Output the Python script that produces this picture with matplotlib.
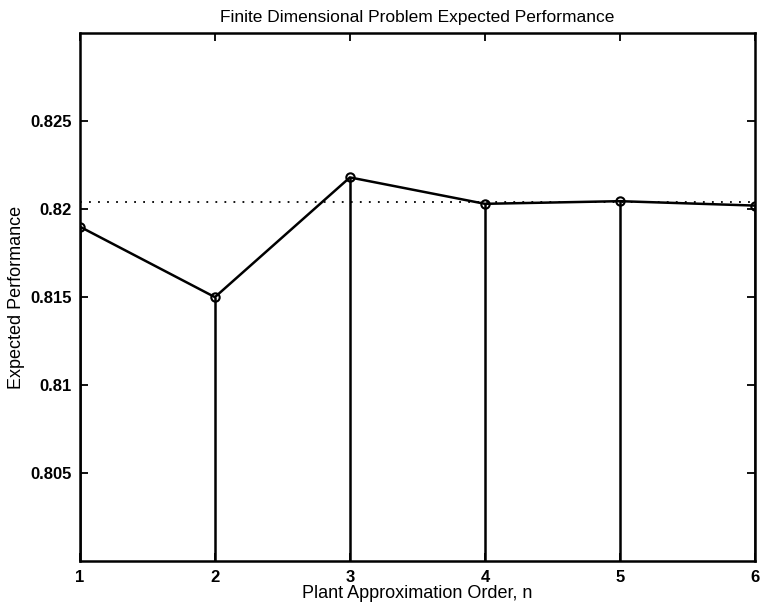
import numpy as np
import matplotlib
matplotlib.use("Agg")
import matplotlib.pyplot as plt

plt.rcParams['font.family'] = ['Liberation Sans', 'DejaVu Sans']

# ============== data
order = np.array([1, 2, 3, 4, 5, 6])
perf = np.array([0.8190, 0.8150, 0.8218, 0.8203, 0.82045, 0.8202])
infDimPerf = 0.8204   # dotted reference level
yTicks = [0.805, 0.81, 0.815, 0.82, 0.825]
yTickLabels = ['0.805', '0.81', '0.815', '0.82', '0.825']

fig = plt.figure(figsize=(7.61, 6.12), dpi=100)
ax = fig.add_axes([0.105, 0.083, 0.887, 0.863])

# stems down to the bottom
ax.vlines(order, 0.80, perf, colors='black', linewidth=1.8)
ax.plot(order, perf, '-', color='black', linewidth=1.8)
ax.plot(order, perf, 'o', markerfacecolor='none', markeredgecolor='black',
        markersize=6, markeredgewidth=1.5)
ax.axhline(infDimPerf, color='black', linestyle=(0, (1, 4)), linewidth=1.3)

ax.set_xlim(1, 6)
ax.set_ylim(0.80, 0.83)
ax.set_xticks(order)
ax.set_xticklabels([str(o) for o in order], fontweight='bold', fontsize=12)
ax.set_yticks(yTicks)
ax.set_yticklabels(yTickLabels, fontweight='bold', fontsize=12)
ax.tick_params(direction='in', length=6, width=1.3, top=True, right=True, pad=6)
for s in ax.spines.values():
    s.set_linewidth(1.8)

ax.set_title("Finite Dimensional Problem Expected Performance", fontsize=12.5, pad=8)
ax.set_xlabel("Plant Approximation Order, n", fontsize=13, labelpad=0)
ax.set_ylabel("Expected Performance", fontsize=13, labelpad=4)

fig.savefig("out.png", dpi=100)
